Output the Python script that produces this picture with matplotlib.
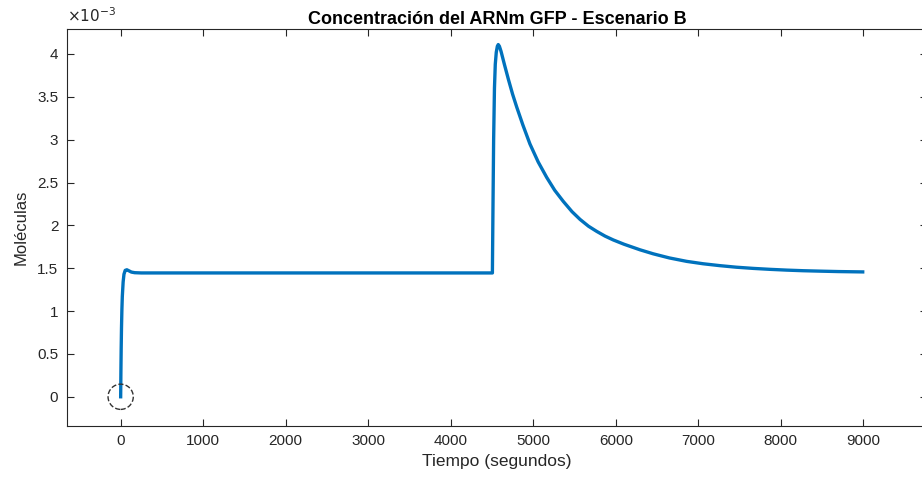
import numpy as np
import matplotlib
matplotlib.use("Agg")
import matplotlib.pyplot as plt
from matplotlib.ticker import FuncFormatter

plt.rcParams['font.family'] = ['Liberation Sans', 'DejaVu Sans']

# GFP mRNA concentration (units of 1e-3 molecules) over time in seconds
tiempo = [0, 3, 6, 10, 15, 20, 30, 40, 55, 75, 100, 130, 170, 250, 400,
          1000, 2000, 3000, 4000, 4505, 4512, 4520, 4530, 4540, 4552, 4565,
          4576, 4590, 4610, 4650, 4700, 4750, 4800, 4875, 4960, 5060, 5163,
          5260, 5364, 5470, 5567, 5670, 5769, 5870, 5970, 6100, 6294, 6455,
          6650, 6860, 7060, 7263, 7460, 7667, 7870, 8071, 8270, 8475, 8700,
          8993]
arnm_e3 = [0.0, 0.30, 0.55, 0.80, 1.02, 1.17, 1.34, 1.43, 1.475, 1.482, 1.47,
           1.455, 1.448, 1.445, 1.445,
           1.445, 1.445, 1.445, 1.445, 1.445, 2.20, 3.00, 3.60, 3.88, 4.02, 4.09,
           4.11, 4.09, 4.03, 3.88, 3.70, 3.53, 3.38, 3.17, 2.95, 2.74, 2.56,
           2.41, 2.28, 2.16, 2.07, 1.99, 1.93, 1.875, 1.83, 1.78, 1.715, 1.668,
           1.62, 1.58, 1.552, 1.53, 1.512, 1.498, 1.487, 1.478, 1.471, 1.466,
           1.461, 1.457]
escala = 1e-3

fig = plt.figure(figsize=(9.22, 4.79), dpi=100)
ax = fig.add_axes([66.7 / 922, 1 - 426 / 479, (927 - 66.7) / 922, (426 - 29.3) / 479])

ax.plot(tiempo, np.array(arnm_e3) * escala, color='#0072BD', lw=2.4,
        solid_joinstyle='round', zorder=3)
# dashed ring marking the initial condition
ax.scatter([tiempo[0]], [arnm_e3[0] * escala], s=330, facecolors='none',
           edgecolors='#333333', linestyle='--', linewidths=1.0, zorder=4)

ax.set_xlim(-654, 9772)
ax.set_ylim(-0.341e-3, 4.288e-3)
ax.set_xticks(np.arange(0, 9001, 1000))
ax.set_yticks(np.arange(0, 4.01e-3, 0.5e-3))
ax.yaxis.set_major_formatter(FuncFormatter(lambda v, p: f"{v * 1e3:g}"))

gris = '#262626'
for s in ax.spines.values():
    s.set_color(gris)
    s.set_linewidth(0.8)
ax.tick_params(direction='in', length=5, width=0.8, color=gris,
               labelcolor=gris, labelsize=11, top=True, right=True, pad=6)

ax.text(0.0, 1.012, r'$\times 10^{-3}$', transform=ax.transAxes,
        fontsize=11, color=gris, ha='left', va='bottom')
ax.set_title('Concentración del ARNm GFP - Escenario B', fontsize=13,
             fontweight='bold', color='black', pad=4)
ax.set_xlabel('Tiempo (segundos)', fontsize=12.5, color=gris, labelpad=4)
ax.set_ylabel('Moléculas', fontsize=12, color=gris, labelpad=6)

fig.savefig('out.png', dpi=100)
